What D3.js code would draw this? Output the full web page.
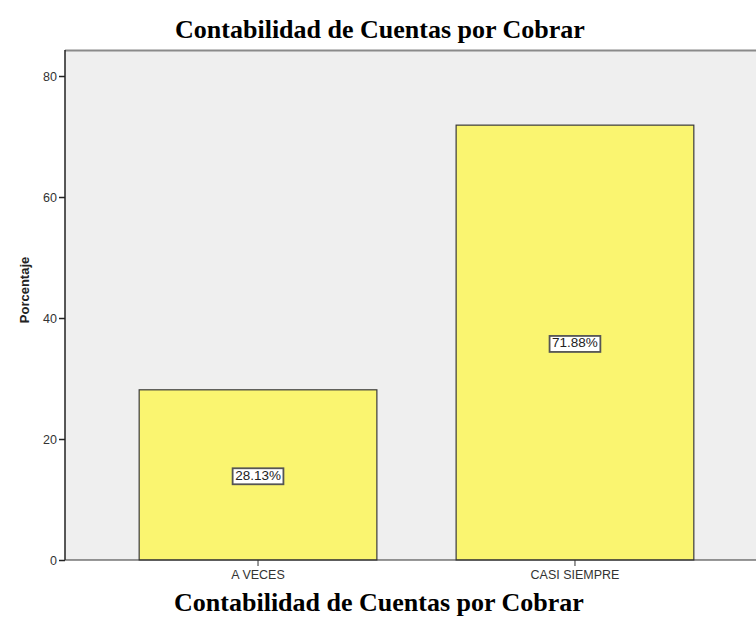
<!DOCTYPE html>
<html>
<head>
<meta charset="utf-8">
<script src="https://cdn.jsdelivr.net/npm/d3@7"></script>
<style>
  body { margin: 0; background: #fff; }
  svg { display: block; }
</style>
</head>
<body>
<svg class="chart"></svg>
<script>
const categories = ['A VECES', 'CASI SIEMPRE'];
const percentages = [28.13, 71.88];
const yTicks = [0, 20, 40, 60, 80];
const titleText = 'Contabilidad de Cuentas por Cobrar';
const yLabel = 'Porcentaje';

const data = categories.map((c, i) => ({cat: c, value: percentages[i]}));

const width = 756;
const height = 624;
const margin = {top: 50, right: -12, bottom: 64, left: 65};
const innerW = width - margin.left - margin.right;
const innerH = height - margin.top - margin.bottom;

const svg = d3.select('.chart')
  .attr('width', width)
  .attr('height', height);

const x = d3.scaleBand()
  .domain(categories)
  .range([0, innerW])
  .paddingInner(0.25)
  .paddingOuter(0.234);

const y = d3.scaleLinear()
  .domain([0, 84.3])
  .range([innerH, 0]);

const g = svg.append('g').attr('transform', 'translate(' + margin.left + ',' + margin.top + ')');

// plot background
g.append('rect')
  .attr('x', 0).attr('y', 0)
  .attr('width', innerW).attr('height', innerH)
  .attr('fill', '#efefef');

// top frame line
g.append('line')
  .attr('x1', 0).attr('x2', innerW)
  .attr('y1', 0.5).attr('y2', 0.5)
  .attr('stroke', '#8a8a8a')
  .attr('stroke-width', 2);

// bars
g.selectAll('.bar')
  .data(data)
  .enter().append('rect')
  .attr('class', 'bar')
  .attr('x', d => x(d.cat))
  .attr('y', d => y(d.value))
  .attr('width', x.bandwidth())
  .attr('height', d => innerH - y(d.value))
  .attr('fill', '#faf570')
  .attr('stroke', '#3a3a3a')
  .attr('stroke-width', 1.2);

// axes
const yAxis = d3.axisLeft(y).tickValues(yTicks).tickSize(6).tickPadding(2);
const xAxis = d3.axisBottom(x).tickSize(6).tickPadding(4);

const gy = g.append('g').call(yAxis);
gy.select('.domain').attr('stroke', '#222').attr('stroke-width', 1.5)
  .attr('d', 'M0,0V' + innerH);
gy.selectAll('.tick line').attr('stroke', '#222').attr('stroke-width', 1.5);
gy.selectAll('.tick text')
  .attr('font-family', 'Liberation Sans, Arial, sans-serif')
  .attr('font-size', 12.5)
  .attr('fill', '#333');

const gx = g.append('g').attr('transform', 'translate(0,' + innerH + ')').call(xAxis);
gx.select('.domain').attr('stroke', '#333').attr('stroke-width', 1.2)
  .attr('d', 'M0,0H' + innerW);
gx.selectAll('.tick line').attr('stroke', '#333');
gx.selectAll('.tick text')
  .attr('font-family', 'Liberation Sans, Arial, sans-serif')
  .attr('font-size', 12.5)
  .attr('fill', '#333');

// value labels
const labels = g.selectAll('.vlabel')
  .data(data)
  .enter().append('g')
  .attr('class', 'vlabel')
  .attr('transform', d => 'translate(' + (x(d.cat) + x.bandwidth() / 2) + ',' + y(d.value / 2) + ')');

labels.append('text')
  .attr('text-anchor', 'middle')
  .attr('dy', '0.36em')
  .attr('font-family', 'Liberation Sans, Arial, sans-serif')
  .attr('font-size', 13.5)
  .attr('fill', '#222')
  .text(d => d.value.toFixed(2) + '%');

labels.each(function () {
  const grp = d3.select(this);
  const bb = grp.select('text').node().getBBox();
  grp.insert('rect', 'text')
    .attr('x', bb.x - 2.5)
    .attr('y', bb.y + 0.5)
    .attr('width', bb.width + 5)
    .attr('height', bb.height + 1)
    .attr('fill', '#fff')
    .attr('stroke', '#555')
    .attr('stroke-width', 1.8);
});

// y axis label
svg.append('text')
  .attr('transform', 'translate(29,' + (margin.top + 240) + ') rotate(-90)')
  .attr('text-anchor', 'middle')
  .attr('font-family', 'Liberation Sans, Arial, sans-serif')
  .attr('font-weight', 'bold')
  .attr('font-size', 13)
  .attr('fill', '#222')
  .text(yLabel);

// titles
svg.append('text')
  .attr('x', 380).attr('y', 38)
  .attr('text-anchor', 'middle')
  .attr('font-family', 'Liberation Serif, Times New Roman, serif')
  .attr('font-weight', 'bold')
  .attr('font-size', 26)
  .attr('fill', '#000')
  .text(titleText);

svg.append('text')
  .attr('x', 379).attr('y', 611)
  .attr('text-anchor', 'middle')
  .attr('font-family', 'Liberation Serif, Times New Roman, serif')
  .attr('font-weight', 'bold')
  .attr('font-size', 26)
  .attr('fill', '#000')
  .text(titleText);
</script>
</body>
</html>
